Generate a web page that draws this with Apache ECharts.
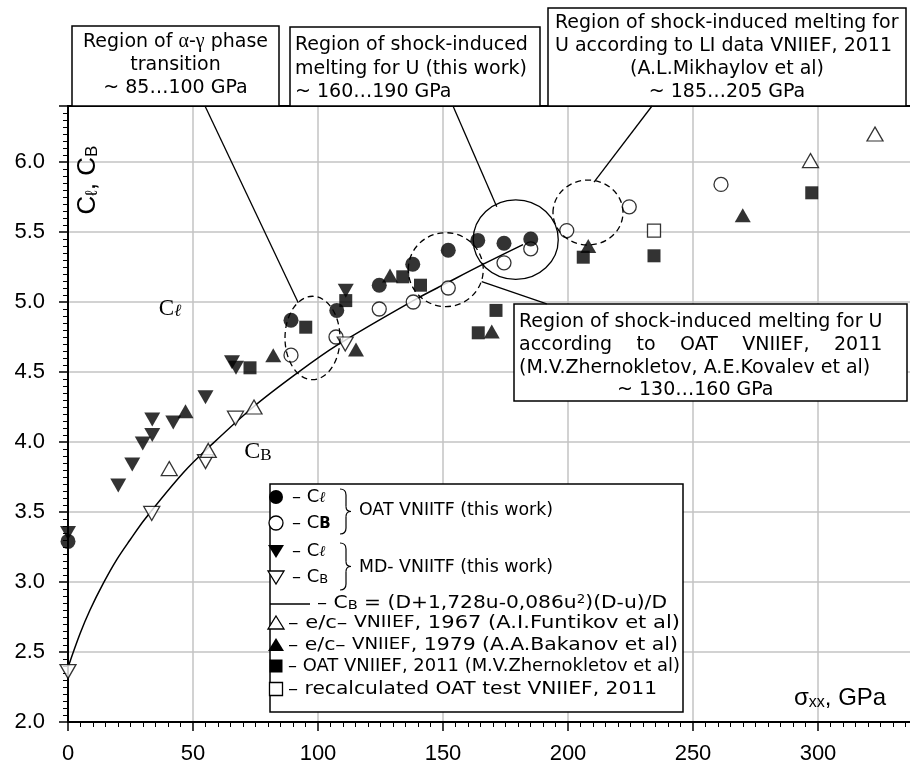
<!DOCTYPE html>
<html><head><meta charset="utf-8">
<script src="https://cdn.jsdelivr.net/npm/echarts@6/dist/echarts.min.js"></script>
<style>html,body{margin:0;padding:0;background:#fff}#c{width:910px;height:770px}</style>
</head><body><div id="c"></div>
<script>
// ---- data ----
const xTickStep = 50;           // GPa
const yTickStep = 0.5;          // km/s
const oatCl = [[0,3.29],[89.2,4.87],[107.5,4.94],[124.5,5.12],[137.9,5.27],[152.1,5.37],[163.9,5.44],[174.4,5.42],[185.1,5.45]];
const oatCb = [[89.2,4.62],[107.2,4.75],[124.5,4.95],[138.1,5.00],[152.1,5.10],[174.4,5.28],[185.1,5.38],[199.5,5.51],[224.5,5.68],[261.2,5.84]];
const mdCl = [[0,3.35],[20.1,3.69],[25.7,3.84],[29.9,3.99],[33.7,4.05],[33.7,4.16],[42.1,4.14],[55.0,4.32],[65.6,4.57],[67.2,4.53],[111.1,5.08]];
const mdCb = [[0,2.36],[33.5,3.49],[55.0,3.86],[67.0,4.17],[110.9,4.70]];
const funtikov1967 = [[40.5,3.81],[56.1,3.94],[74.4,4.25],[297.0,6.01],[322.8,6.20]];
const bakanov1979 = [[47.0,4.22],[82.1,4.62],[115.2,4.66],[128.8,5.19],[169.5,4.79],[208.1,5.40],[269.9,5.62]];
const zhernokletov2011 = [[72.8,4.53],[95.1,4.82],[111.1,5.01],[133.9,5.18],[141.0,5.12],[164.1,4.78],[171.2,4.94],[206.1,5.32],[234.4,5.33],[297.5,5.78]];
const recalc2011 = [[234.4,5.51]];
const cbCurve = [[0,2.39],[4.8,2.63],[8.8,2.80],[14.1,2.99],[19.5,3.16],[24.8,3.30],[30.8,3.45],[46.1,3.78],[56.8,3.97],[74.1,4.25],[91.5,4.49],[107.5,4.69],[138.1,5.01],[152.0,5.14],[166.1,5.27],[182.0,5.41]];

const chart = echarts.init(document.getElementById('c'));
const SANS = 'Liberation Sans';
const open = {color:'#fff', borderColor:'#000', borderWidth:1.3};
const fill = {color:'#000'};
function sc(data, symbol, size, style, rot){
  return {type:'scatter', data, symbol, symbolSize:size, symbolRotate:rot||0, itemStyle:style, z:3, silent:true};
}
const axisCommon = {
  axisLine:{show:true, onZero:false, lineStyle:{color:'#000', width:2}},
  axisTick:{show:true, length:9, lineStyle:{color:'#000', width:1.5}},
  minorTick:{show:true, splitNumber:10, length:5, lineStyle:{color:'#000', width:1}},
  splitLine:{show:true, showMaxLine:false, lineStyle:{color:'#c3c3c3', width:1.5}},
  minorSplitLine:{show:false}
};
const option = {
  animation:false,
  backgroundColor:'#fff',
  grid:{left:68, right:-8, top:106, bottom:48, outerBoundsMode:'none'},
  xAxis:[Object.assign({type:'value', min:0, max:340, interval:xTickStep,
      axisLabel:{show:true, showMaxLabel:false, margin:21, color:'#000', fontSize:22, fontFamily:SANS}}, axisCommon),
    {type:'value', position:'top', min:0, max:340, axisLine:{show:true, lineStyle:{color:'#000', width:2}},
      axisTick:{show:false}, axisLabel:{show:false}, splitLine:{show:false}}],
  yAxis:Object.assign({type:'value', min:2, max:6.4, interval:yTickStep,
      axisLabel:{show:true, showMaxLabel:false, margin:23, color:'#000', fontSize:22, fontFamily:SANS, formatter:v=>v.toFixed(1)}}, axisCommon),
  series:[
    sc(oatCb,'circle',14,open),
    sc(mdCb,'triangle',[16,14],open,180),
    sc(funtikov1967,'triangle',[16,14],open),
    sc(recalc2011,'rect',13,open),
    {type:'line', data:cbCurve, smooth:0.35, showSymbol:false, symbol:'none', lineStyle:{color:'#000', width:1.5}, z:3, silent:true},
    sc(oatCl,'circle',15,fill),
    sc(mdCl,'triangle',[16,14],fill,180),
    sc(bakanov1979,'triangle',[16,14],fill),
    sc(zhernokletov2011,'rect',13,fill)
  ]
};
chart.setOption(option);

// ---- annotations ----
const P = (x,y)=>chart.convertToPixel({gridIndex:0},[x,y]);
const G = [];
const F19 = '19px "DejaVu Sans"';
function box(x,y,w,h){G.push({type:'rect', shape:{x,y,width:w,height:h}, style:{fill:'#fff', stroke:'#000', lineWidth:1.5}, z:100});}
function txt(x,y,text,extra){G.push({type:'text', x, y, style:Object.assign({text, fill:'#000', font:F19, align:'left', verticalAlign:'middle'}, extra||{}), z:101});}
function seg(a,b,w){G.push({type:'line', shape:{x1:a[0],y1:a[1],x2:b[0],y2:b[1]}, style:{stroke:'#000', lineWidth:w||1.3}, z:101});}
function quad(x1,y1,cx,cy,x2,y2){G.push({type:'bezierCurve', shape:{x1,y1,x2,y2,cpx1:cx,cpy1:cy}, style:{stroke:'#000', fill:null, lineWidth:1.2}, z:101});}
function ell(cx,cy,rxData,ryData,dash){
  const c=P(cx,cy), e=P(cx+rxData, cy+ryData);
  G.push({type:'ellipse', shape:{cx:c[0], cy:c[1], rx:Math.abs(e[0]-c[0]), ry:Math.abs(e[1]-c[1])},
    style:{fill:null, stroke:'#000', lineWidth:1.3, lineDash:dash?[6,4]:null}, z:90});
}
// ellipses (data coords)
ell(97.8,4.743,11,0.298,true);
ell(179.1,5.445,17,0.284,false);
ell(151.1,5.231,15,0.264,true);
ell(208.0,5.639,14,0.232,true);
// leader lines
seg(P(54.8,6.4),P(92.1,4.995));
seg(P(154.0,6.4),P(171.5,5.68));
seg(P(233.6,6.4),P(210.4,5.857));
seg(P(165.5,5.145),P(191.5,4.986));

// box 1
box(72,26,207,80);
G.push({type:'text', x:175.5, y:42, style:{text:'{a|Region of }{g|α}{a|-}{g|γ}{a| phase}', align:'center', verticalAlign:'middle',
  rich:{a:{font:F19, fill:'#000'}, g:{font:'20px "Liberation Serif"', fill:'#000'}}}, z:101});
txt(175.5,65,'transition',{align:'center'});
txt(175.5,88,'~ 85…100 GPa',{align:'center'});
// box 2
box(290,27,250,79);
txt(295,45,'Region of shock-induced');
txt(295,69,'melting for U (this work)');
txt(295,92,'~ 160…190 GPa');
// box 3
box(548,8,358,98);
txt(555,23,'Region of shock-induced melting for');
txt(555,46,'U according to LI data VNIIEF, 2011');
txt(727,69,'(A.L.Mikhaylov et al)',{align:'center'});
txt(727,92,'~ 185…205 GPa',{align:'center'});
// box 4 (justified second line)
box(514,304,393,97);
const mctx = document.createElement('canvas').getContext('2d');
mctx.font = F19;
const line1 = 'Region of shock-induced melting for U';
txt(519,322,line1);
const target = mctx.measureText(line1).width;
const words = ['according','to','OAT','VNIIEF,','2011'];
const ww = words.map(w=>mctx.measureText(w).width);
const gap = (target - ww.reduce((a,b)=>a+b,0))/(words.length-1);
let wx = 519;
words.forEach((w,i)=>{txt(wx,345,w); wx += ww[i]+gap;});
txt(519,368,'(M.V.Zhernokletov, A.E.Kovalev et al)');
txt(617,390,'~ 130…160 GPa');

// axis titles and curve labels
G.push({type:'text', x:88, y:180, rotation:Math.PI/2, style:{text:'{m|C}{s|ℓ}{m|, C}{s|B}', align:'center', verticalAlign:'middle',
  rich:{m:{fontSize:26, fontFamily:SANS, fill:'#000'}, s:{fontSize:17, fontFamily:SANS, fill:'#000', verticalAlign:'bottom', lineHeight:12}}}, z:101});
const pxName = P(290.4,2.17);
G.push({type:'text', x:pxName[0], y:pxName[1], style:{text:'{m|σ}{s|xx}{m|, GPa}', align:'left', verticalAlign:'middle',
  rich:{m:{fontSize:24, fontFamily:SANS, fill:'#000'}, s:{fontSize:16, fontFamily:SANS, fill:'#000', verticalAlign:'bottom', lineHeight:10}}}, z:101});
const pCl = P(40.8,4.95);
G.push({type:'text', x:pCl[0], y:pCl[1], style:{text:'{m|C}{s|ℓ}', align:'center', verticalAlign:'middle',
  rich:{m:{fontSize:23, fontFamily:'Liberation Serif', fill:'#000'}, s:{fontSize:17, fontFamily:'DejaVu Serif', fontStyle:'italic', fill:'#000', verticalAlign:'bottom', lineHeight:10}}}, z:101});
const pCb = P(76.0,3.93);
G.push({type:'text', x:pCb[0], y:pCb[1], style:{text:'{m|C}{s|B}', align:'center', verticalAlign:'middle',
  rich:{m:{fontSize:24, fontFamily:'Liberation Serif', fill:'#000'}, s:{fontSize:17, fontFamily:'Liberation Serif', fill:'#000', verticalAlign:'bottom', lineHeight:8}}}, z:101});

// legend
box(270,484,413,228);
const LF = 'DejaVu Sans';
const richLeg = {
  n:{fontSize:18, fontFamily:LF, fill:'#000'},
  sub:{fontSize:13, fontFamily:LF, fill:'#000', verticalAlign:'bottom', lineHeight:10},
  subb:{fontSize:15, fontFamily:LF, fontWeight:'bold', fill:'#000', verticalAlign:'bottom', lineHeight:10},
  l:{fontSize:15, fontFamily:'DejaVu Serif', fontStyle:'italic', fill:'#000', verticalAlign:'bottom', lineHeight:10},
  sup:{fontSize:12, fontFamily:LF, fill:'#000', verticalAlign:'top', lineHeight:10},
  sm:{fontSize:16, fontFamily:LF, fill:'#000'}
};
function fontOf(s){return (s.fontStyle||'normal')+' '+(s.fontWeight||'normal')+' '+s.fontSize+'px "'+s.fontFamily+'"';}
function ltxt(x,y,parts,endX){
  let w=0; const t=parts.map(([k,s])=>{mctx.font=fontOf(richLeg[k]); w+=mctx.measureText(s).width; return '{'+k+'|'+s+'}';}).join('');
  const sx = endX ? (endX-x)/w : 1;
  G.push({type:'text', x, y, scaleX:sx, style:{text:t, rich:richLeg, align:'left', verticalAlign:'middle'}, z:101});
}
const mx = 276;
function lmark(kind, y, filled){
  const st = filled ? {fill:'#000'} : {fill:'#fff', stroke:'#000', lineWidth:1.3};
  if (kind==='circle') G.push({type:'circle', shape:{cx:mx, cy:y, r:7}, style:st, z:101});
  if (kind==='rect') G.push({type:'rect', shape:{x:mx-6.5, y:y-6.5, width:13, height:13}, style:st, z:101});
  if (kind==='up') G.push({type:'polygon', shape:{points:[[mx,y-7],[mx+8,y+6],[mx-8,y+6]]}, style:st, z:101});
  if (kind==='down') G.push({type:'polygon', shape:{points:[[mx-8,y-6],[mx+8,y-6],[mx,y+7]]}, style:st, z:101});
}
function brace(x,y1,y2){
  const m=(y1+y2)/2;
  quad(x,y1, x+6,y1, x+6,y1+6);
  seg([x+6,y1+6],[x+6,m-5],1.2);
  quad(x+6,m-5, x+6,m, x+11,m);
  quad(x+11,m, x+6,m, x+6,m+5);
  seg([x+6,m+5],[x+6,y2-6],1.2);
  quad(x+6,y2-6, x+6,y2, x,y2);
}
const ry = [497,523,551,577,603,623,645,666,689];
lmark('circle',ry[0],true);  ltxt(292,ry[0],[['n','– C'],['l','ℓ']]);
lmark('circle',ry[1],false); ltxt(292,ry[1],[['n','– C'],['subb','B']]);
brace(340,489,534); ltxt(359,510,[['n','OAT VNIITF (this work)']],553);
lmark('down',ry[2],true);    ltxt(292,ry[2],[['n','– C'],['l','ℓ']]);
lmark('down',ry[3],false);   ltxt(292,ry[3],[['n','– C'],['sub','B']]);
brace(340,543,590); ltxt(359,567,[['n','MD- VNIITF (this work)']],553);
seg([270,604],[310,604],1.5);
ltxt(317,ry[4],[['n','– C'],['sub','B'],['n',' = (D+1,728u-0,086u'],['sup','2'],['n',')(D-u)/D']],667);
lmark('up',ry[5],false);  ltxt(288,ry[5],[['n','– e/c– '],['sm','VNIIEF'],['n',', 1967 (A.I.Funtikov et al)']],680);
lmark('up',ry[6],true);   ltxt(288,ry[6],[['n','– e/c– '],['sm','VNIIEF'],['n',', 1979 (A.A.Bakanov et al)']],678);
lmark('rect',ry[7],true); ltxt(288,ry[7],[['n','– OAT VNIIEF, 2011 (M.V.Zhernokletov et al)']],680);
lmark('rect',ry[8],false);ltxt(288,ry[8],[['n','– recalculated OAT test VNIIEF, 2011']],657);

chart.setOption({graphic:G});
</script></body></html>
